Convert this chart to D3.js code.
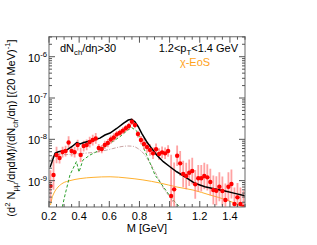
<!DOCTYPE html>
<html>
<head>
<meta charset="utf-8">
<script src="https://cdn.jsdelivr.net/npm/d3@7"></script>
<style>
  html, body { margin: 0; padding: 0; background: #fff; }
  svg { display: block; font-family: "Liberation Sans", Arial, sans-serif; }
</style>
</head>
<body>
<svg id="chart" width="317" height="245"></svg>
<script>
// Данные: бины по M (шаг 20 МэВ) и значения спектра
const massBins = d3.range(65).map(i => +(0.21 + 0.02 * i).toFixed(2));
const dataValues = [
    7.4e-10, 1.37e-9, 4.17e-9, 3.52e-9, 4.92e-9, 5.21e-9, 8.37e-9, 5.2e-9, 4.9e-9, 7.28e-9,
    4.2e-9, 6.89e-9, 7.3e-9, 8.6e-9, 9.6e-9, 1.05e-8, 6.16e-9, 5.82e-9, 7.3e-9, 8.13e-9,
    9.89e-9, 1.11e-8, 1.32e-8, 1.44e-8, 1.62e-8, 1.85e-8, 2.1e-8, 2.67e-8, 2.22e-8, 1.34e-8,
    9.6e-9, 7.7e-9, 6.5e-9, 5.5e-9, 4.58e-9, 5.73e-9, 4.41e-9, 4.84e-9, 4.58e-9, 5.21e-9,
    4.24e-10, 6.16e-10, 4.01e-9, 2.62e-9, 1.45e-9, 1.29e-9, 1.55e-9, 1.71e-9, 8.13e-10, 1.14e-9,
    1.14e-9, 1.29e-9, 1.2e-9, 9.25e-10, 5.92e-10, 5.69e-10, 7.11e-10, 5.6e-10, 3.39e-10, 7.11e-10,
    8.28e-10, 2.71e-10, 3.94e-10, 2.71e-10, 2.3e-10
];
// Ошибки в декадах (симметрично в логарифме)
const dataErrDex = [
    0.38, 0.36, 0.2, 0.13, 0.13, 0.13, 0.15, 0.13, 0.13, 0.13,
    0.17, 0.13, 0.13, 0.13, 0.13, 0.13, 0.1, 0.1, 0.1, 0.1,
    0.1, 0.1, 0.08, 0.08, 0.08, 0.08, 0.08, 0.08, 0.08, 0.08,
    0.1, 0.14, 0.14, 0.14, 0.14, 0.14, 0.14, 0.14, 0.14, 0.14,
    1.0, 0.65, 0.25, 0.3, 0.32, 0.32, 0.32, 0.32, 0.35, 0.32,
    0.32, 0.32, 0.32, 0.32, 0.35, 0.35, 0.35, 0.35, 0.4, 0.35,
    0.35, 0.4, 0.35, 0.4, 0.4
];

// Полная модель (чёрная линия)
const totalM = [0.207, 0.240, 0.262, 0.317, 0.351, 0.384, 0.406, 0.427, 0.494, 0.538, 0.571, 0.605,
    0.649, 0.693, 0.726, 0.748, 0.770, 0.792, 0.815, 0.848, 0.881, 0.914, 0.958, 1.002, 1.047,
    1.102, 1.168, 1.234, 1.301, 1.367, 1.433, 1.5];
const totalY = [2.10e-9, 4.58e-9, 5.01e-9, 5.51e-9, 6.62e-9, 8.28e-9, 7.69e-9, 8.28e-9, 9.62e-9,
    1.07e-8, 1.27e-8, 1.42e-8, 1.83e-8, 2.44e-8, 2.93e-8, 3.05e-8, 2.67e-8, 2.02e-8, 1.40e-8,
    8.75e-9, 6.05e-9, 4.17e-9, 2.87e-9, 2.17e-9, 1.64e-9, 1.24e-9, 8.61e-10, 7.11e-10, 6.27e-10,
    5.60e-10, 4.92e-10, 4.31e-10];

// Зелёная штриховая
const greenM = [0.288, 0.306, 0.339, 0.382, 0.399, 0.425, 0.472, 0.538, 0.605, 0.671, 0.715, 0.748,
    0.782, 0.803, 0.825, 0.848, 0.870, 0.903, 0.936, 0.969, 1.002, 1.036, 1.069];
const greenY = [2.30e-10, 4.48e-10, 1.37e-9, 2.90e-9, 1.61e-9, 3.15e-9, 4.17e-9, 5.51e-9, 8.0e-9,
    1.16e-8, 1.59e-8, 1.93e-8, 1.59e-8, 1.06e-8, 6.52e-9, 4.17e-9, 2.67e-9, 1.37e-9, 9.25e-10,
    6.27e-10, 4.24e-10, 3.03e-10, 2.23e-10];

// Штрих-пунктир (адронный газ)
const hadronM = [0.213, 0.227, 0.253, 0.306, 0.406, 0.538, 0.624, 0.684, 0.724, 0.757, 0.790, 0.825,
    0.870, 0.914, 0.958, 1.002, 1.049];
const hadronY = [3.15e-9, 3.94e-9, 4.29e-9, 4.29e-9, 4.53e-9, 5.07e-9, 5.98e-9, 6.70e-9, 6.89e-9,
    6.78e-9, 5.98e-9, 4.66e-9, 2.67e-9, 1.37e-9, 6.62e-10, 4.01e-10, 2.17e-10];

// χ-EoS (оранжевая)
const eosM = [0.210, 0.220, 0.233, 0.260, 0.293, 0.339, 0.406, 0.492, 0.605, 0.717, 0.823, 0.936,
    1.049, 1.155, 1.268, 1.380, 1.467, 1.487];
const eosY = [2.56e-10, 3.79e-10, 5.01e-10, 7.0e-10, 8.75e-10, 1.0e-9, 1.12e-9, 1.20e-9, 1.24e-9,
    1.16e-9, 1.04e-9, 8.75e-10, 7.0e-10, 5.92e-10, 4.48e-10, 3.39e-10, 2.49e-10, 2.30e-10];

const xTicks = [0.2, 0.4, 0.6, 0.8, 1.0, 1.2, 1.4];
const xTickLabels = ["0.2", "0.4", "0.6", "0.8", "1", "1.2", "1.4"];
const yDecades = [-9, -8, -7, -6];

const svg = d3.select("#chart");
const area = { left: 49, right: 245, top: 36.7, bottom: 207 };

const scX = d3.scaleLinear().domain([0.2, 1.5]).range([area.left, area.right]);
const scY = d3.scaleLog().domain([2.3e-10, 3.05e-6]).range([area.bottom, area.top]);

// Вспомогательная функция: текст с индексами
function richText(sel, parts, size) {
    let shift = 0; // текущее смещение от базовой линии
    parts.forEach(p => {
        const [txt, mode] = p;
        const target = mode === "sub" ? size * 0.3 : (mode === "sup" ? -size * 0.45 : 0);
        sel.append("tspan")
            .text(txt)
            .attr("font-size", mode ? size * 0.7 : size)
            .attr("dy", target - shift);
        shift = target;
    });
}

svg.append("defs").append("clipPath").attr("id", "clip")
    .append("rect")
    .attr("x", area.left).attr("y", area.top)
    .attr("width", area.right - area.left).attr("height", area.bottom - area.top);

const plot = svg.append("g").attr("clip-path", "url(#clip)");

// Кривые
const line = d3.line().x(d => scX(d[0])).y(d => scY(d[1]));
const smooth = d3.line().x(d => scX(d[0])).y(d => scY(d[1])).curve(d3.curveMonotoneX);

plot.append("path")
    .datum(eosM.map((m, i) => [m, eosY[i]]))
    .attr("fill", "none").attr("stroke", "#ffb02e").attr("stroke-width", 1)
    .attr("d", smooth);

plot.append("path")
    .datum(hadronM.map((m, i) => [m, hadronY[i]]))
    .attr("fill", "none").attr("stroke", "#c8a2a2").attr("stroke-width", 1)
    .attr("stroke-dasharray", "4,1.5,1,1.5")
    .attr("d", smooth);

plot.append("path")
    .datum(greenM.map((m, i) => [m, greenY[i]]))
    .attr("fill", "none").attr("stroke", "#2ca02c").attr("stroke-width", 1)
    .attr("stroke-dasharray", "3,2")
    .attr("d", line);

// Ошибки
const points = massBins.map((m, i) => ({ m: m, v: dataValues[i], e: dataErrDex[i] }));

plot.selectAll(".err")
    .data(points)
    .enter()
    .append("line")
    .attr("class", "err")
    .attr("x1", d => scX(d.m)).attr("x2", d => scX(d.m))
    .attr("y1", d => scY(Math.max(d.v / Math.pow(10, d.e), 1e-11)))
    .attr("y2", d => scY(d.v * Math.pow(10, d.e)))
    .attr("stroke", "#ff7070").attr("stroke-opacity", 0.65).attr("stroke-width", 1.8);

plot.append("path")
    .datum(totalM.map((m, i) => [m, totalY[i]]))
    .attr("fill", "none").attr("stroke", "#000").attr("stroke-width", 1.5)
    .attr("d", line);

plot.selectAll(".dot")
    .data(points)
    .enter()
    .append("circle")
    .attr("class", "dot")
    .attr("cx", d => scX(d.m))
    .attr("cy", d => scY(d.v))
    .attr("r", 2.2)
    .attr("fill", "#f00");

// Рамка и деления
const frameColor = "#808080";
svg.append("rect")
    .attr("x", area.left).attr("y", area.top)
    .attr("width", area.right - area.left).attr("height", area.bottom - area.top)
    .attr("fill", "none").attr("stroke", frameColor).attr("stroke-width", 1.2);

const ticks = svg.append("g").attr("stroke", "#555").attr("stroke-width", 1);

// X: главные 0.2, малые 0.05
d3.range(0.2, 1.5001, 0.05).forEach(v => {
    const major = xTicks.some(t => Math.abs(t - v) < 1e-6);
    const len = major ? 6 : 3;
    const x = scX(v);
    ticks.append("line").attr("x1", x).attr("x2", x).attr("y1", area.bottom).attr("y2", area.bottom - len);
    ticks.append("line").attr("x1", x).attr("x2", x).attr("y1", area.top).attr("y2", area.top + len);
});

// Y: логарифмические деления
const [y0, y1] = scY.domain();
for (let k = -10; k <= -5; k++) {
    for (let d = 1; d <= 9; d++) {
        const v = d * Math.pow(10, k);
        if (v < y0 || v > y1) continue;
        const len = d === 1 ? 6 : 3;
        const y = scY(v);
        ticks.append("line").attr("x1", area.left).attr("x2", area.left + len).attr("y1", y).attr("y2", y);
        ticks.append("line").attr("x1", area.right).attr("x2", area.right - len).attr("y1", y).attr("y2", y);
    }
}

// Подписи осей
const fs = 11;
xTicks.forEach((t, i) => {
    svg.append("text")
        .attr("x", scX(t)).attr("y", 220)
        .attr("text-anchor", "middle").attr("font-size", fs)
        .text(xTickLabels[i]);
});

yDecades.forEach(k => {
    const t = svg.append("text")
        .attr("x", 47).attr("y", scY(Math.pow(10, k)) + 5)
        .attr("text-anchor", "end");
    richText(t, [["10", ""], ["-" + Math.abs(k), "sup"]], fs);
});

svg.append("text")
    .attr("x", (area.left + area.right) / 2).attr("y", 232)
    .attr("text-anchor", "middle").attr("font-size", fs)
    .text("M [GeV]");

const yTitle = svg.append("text")
    .attr("transform", "translate(15,128) rotate(-90)")
    .attr("text-anchor", "middle");
richText(yTitle, [["(d", ""], ["2", "sup"], [" N", ""], ["μμ", "sub"], ["/dηdM)/(dN", ""],
    ["ch", "sub"], ["/dη) [(20 MeV)", ""], ["-1", "sup"], ["]", ""]], 11);

// Надписи на графике
const lab1 = svg.append("text").attr("x", 60).attr("y", 51.5);
richText(lab1, [["dN", ""], ["ch", "sub"], ["/dη>30", ""]], fs);

const lab2 = svg.append("text").attr("x", 238).attr("y", 51.5).attr("text-anchor", "end");
richText(lab2, [["1.2<p", ""], ["T", "sub"], ["<1.4 GeV", ""]], fs);

svg.append("text")
    .attr("x", 195).attr("y", 65.5)
    .attr("text-anchor", "middle").attr("font-size", fs)
    .attr("fill", "#ffa31a")
    .text("χ-EoS");
</script>
</body>
</html>
